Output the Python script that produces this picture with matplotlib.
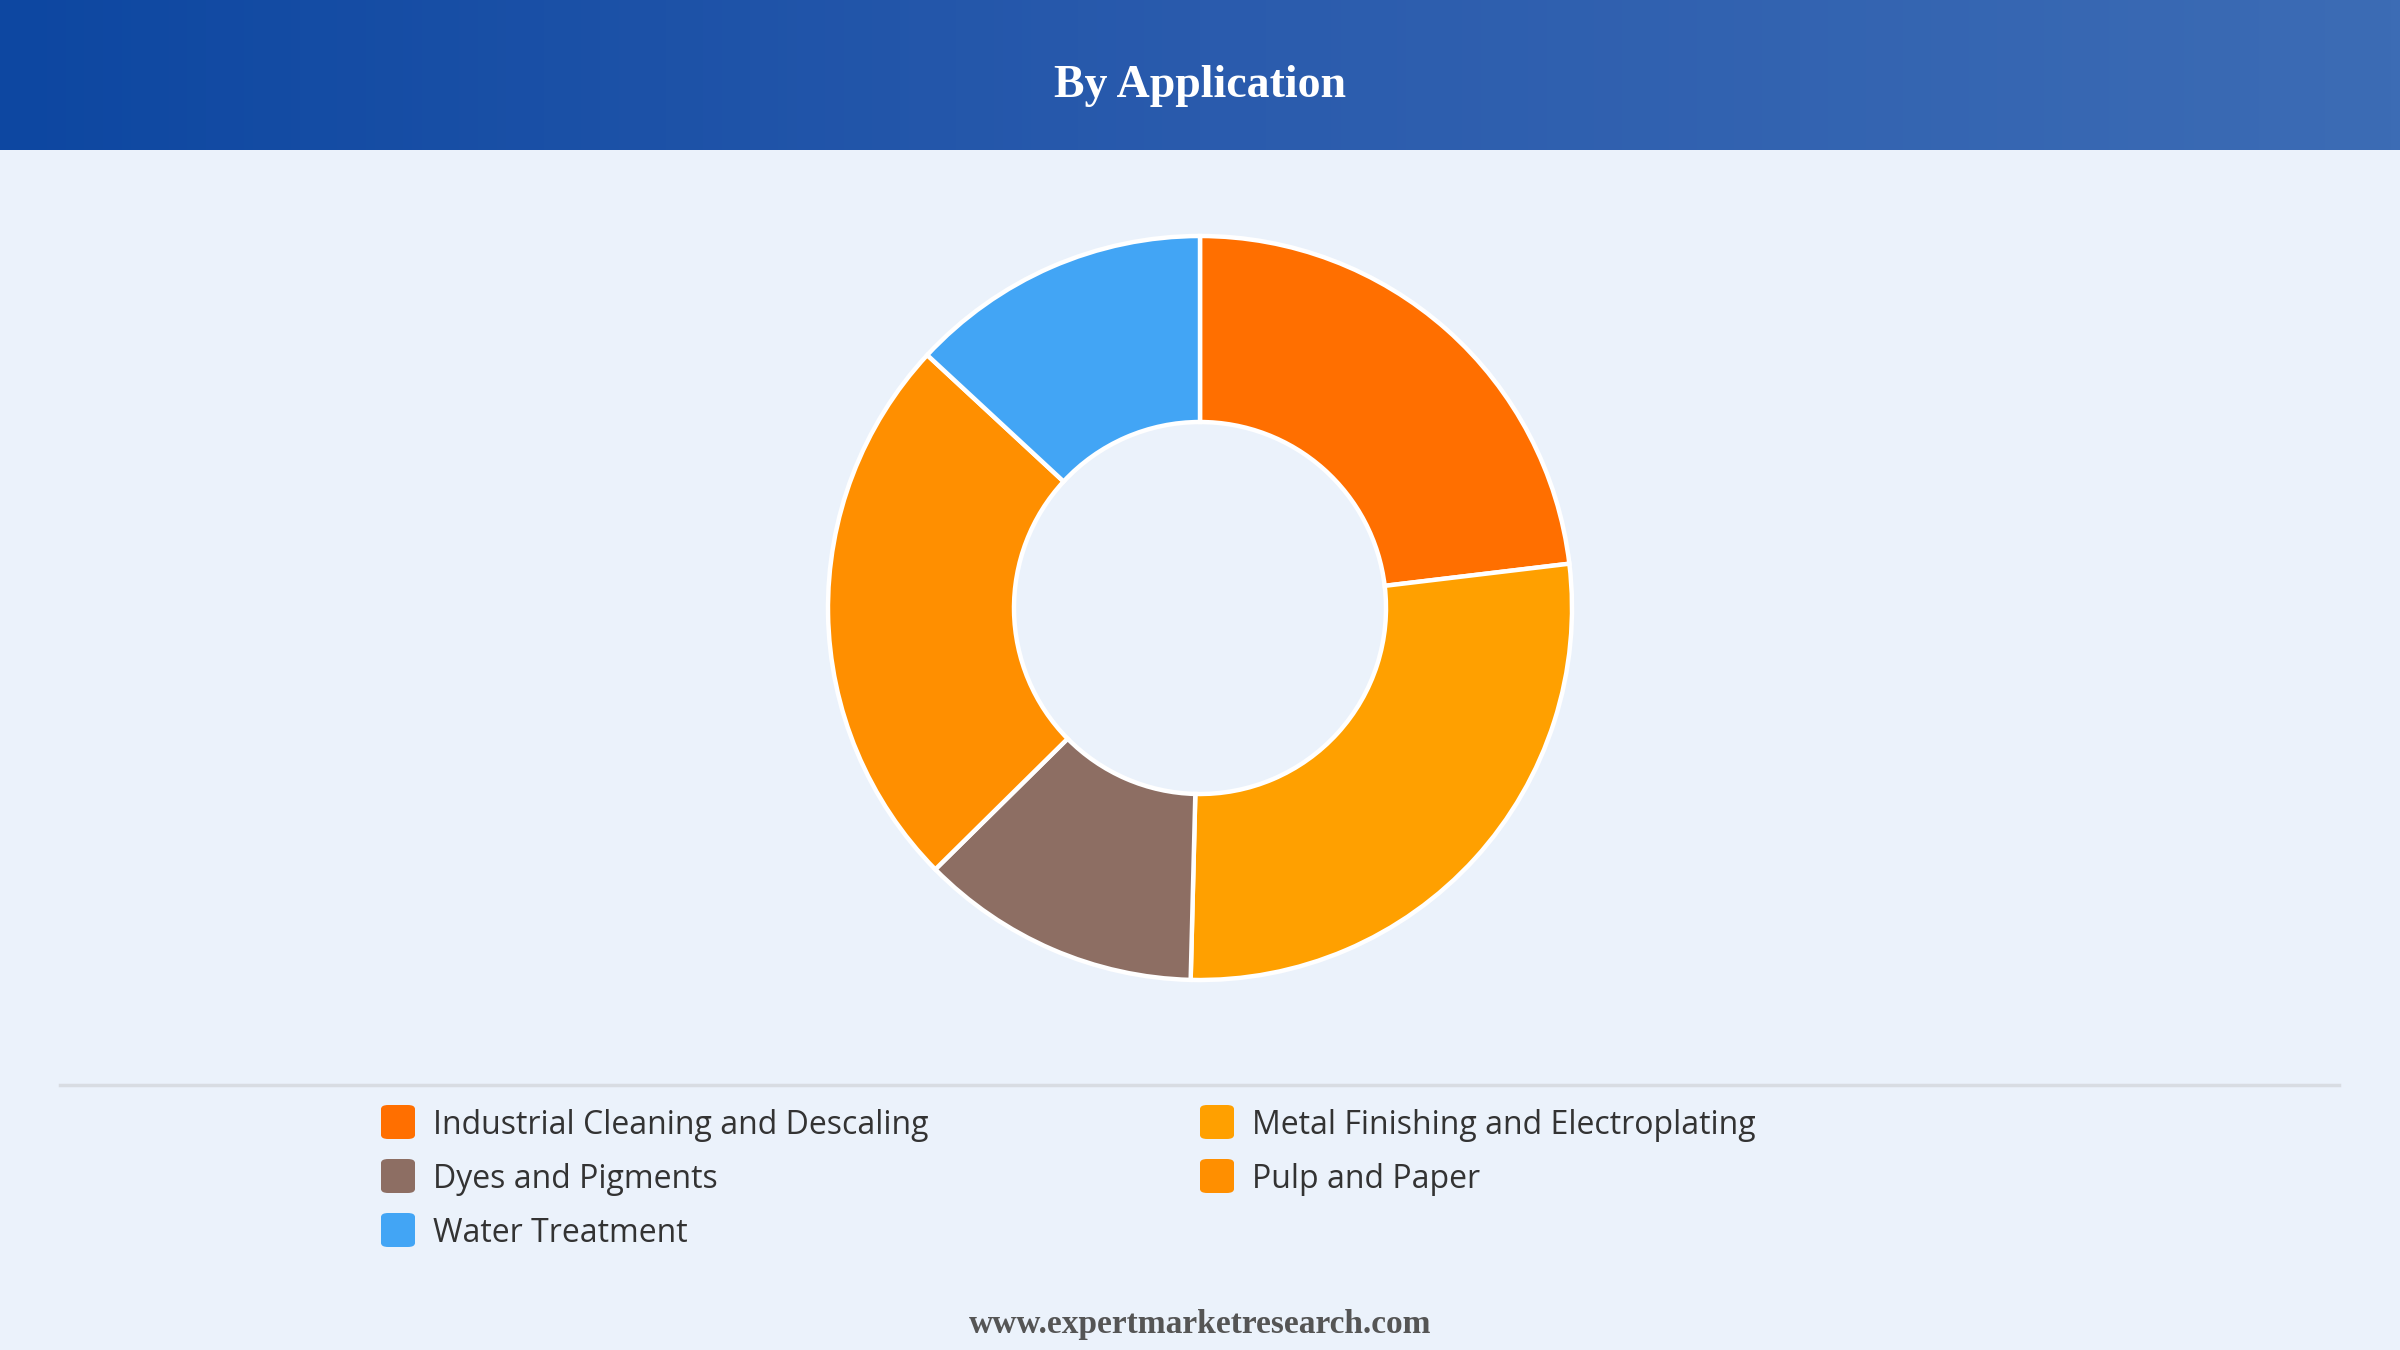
import matplotlib.pyplot as plt
import numpy as np
from matplotlib.colors import LinearSegmentedColormap
from matplotlib.patches import FancyBboxPatch

labels = ["Industrial Cleaning and Descaling", "Metal Finishing and Electroplating",
          "Dyes and Pigments", "Pulp and Paper", "Water Treatment"]
shares = [23.1, 27.3, 12.2, 24.3, 13.1]
colors = ["#FF6F00", "#FFA000", "#8D6E63", "#FF8F00", "#42A5F5"]

W, H = 2400, 1350
bg = "#EBF2FB"

fig = plt.figure(figsize=(24, 13.5), dpi=100, facecolor=bg)

# header band with gradient
hax = fig.add_axes([0, 1 - 150 / H, 1, 150 / H])
grad = LinearSegmentedColormap.from_list("hdr", ["#0D47A1", "#2A5BAD", "#3C6CB5"])
hax.imshow(np.linspace(0, 1, 256)[None, :], aspect="auto", cmap=grad, extent=[0, 1, 0, 1])
hax.set_axis_off()
fig.text(0.5, 1 - 86 / H, "By Application", ha="center", va="center", color="white",
         fontsize=33, fontweight="bold", family="Liberation Serif")

# donut
cx, cy, half = 1200, H - 608, 400
ax = fig.add_axes([(cx - half) / W, (cy - half) / H, 2 * half / W, 2 * half / H])
ax.pie(shares, colors=colors, startangle=90, counterclock=False, radius=1,
       wedgeprops=dict(width=0.5, edgecolor="white", linewidth=3.2))
ax.set_xlim(-half / 372, half / 372)
ax.set_ylim(-half / 372, half / 372)
ax.set_aspect("equal")
ax.set_axis_off()

# separator line
fig.add_artist(plt.Line2D([60 / W, 2339 / W], [1 - 1085 / H] * 2, color="#D8DCE2", lw=2.5))

# legend, row-major in two columns
col_x = [381, 1200]
row_y = [1122, 1176, 1230]
for i, (lab, c) in enumerate(zip(labels, colors)):
    x = col_x[i % 2]
    y = row_y[i // 2]
    fig.add_artist(FancyBboxPatch(((x) / W, (H - y - 17) / H), 34 / W, 34 / H,
                                  boxstyle="round,pad=0,rounding_size=0.003",
                                  transform=fig.transFigure, facecolor=c, edgecolor="none"))
    fig.text((x + 52) / W, (H - y) / H, lab, ha="left", va="center_baseline",
             fontsize=23, color="#333333", family="Open Sans")

fig.text(0.5, 1 - 1324 / H, "www.expertmarketresearch.com", ha="center", va="center",
         color="#555555", fontsize=24, fontweight="bold", family="Liberation Serif")

fig.savefig("out.png", dpi=100, facecolor=bg)
